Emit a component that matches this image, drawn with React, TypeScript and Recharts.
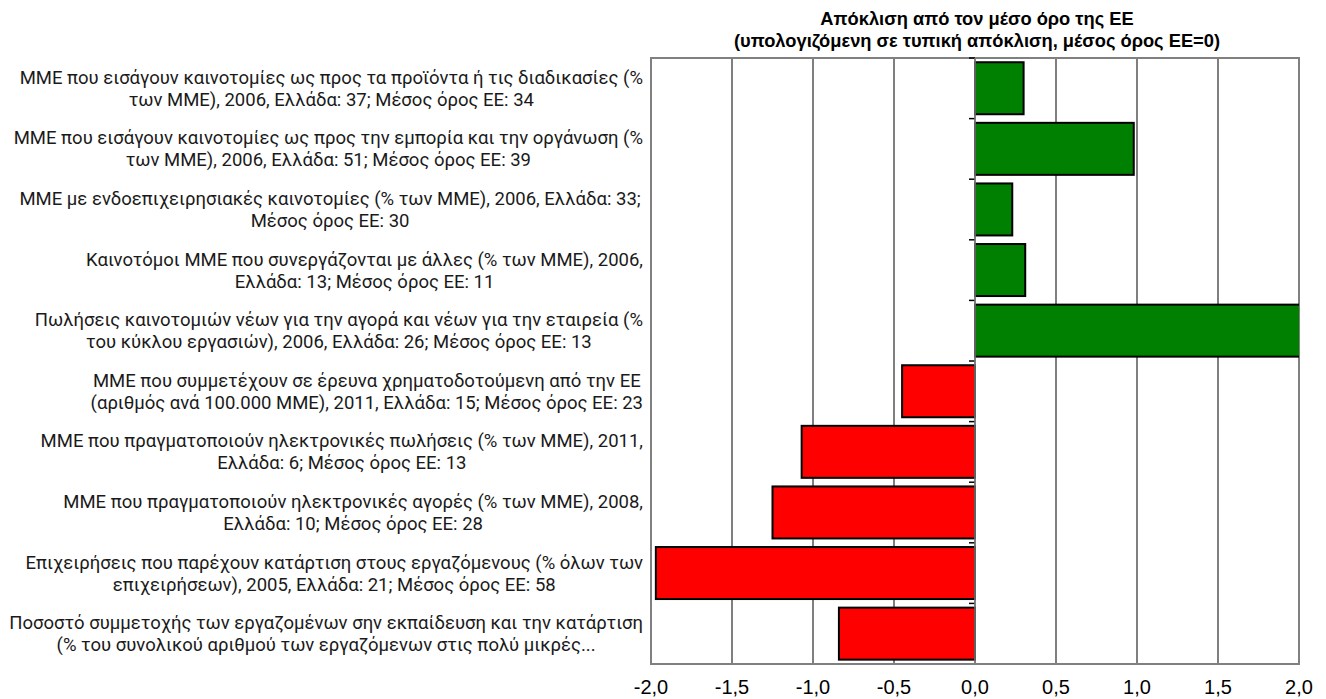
import React from 'react';
import { BarChart, Bar, XAxis, YAxis, CartesianGrid, ReferenceLine, ReferenceArea, Cell } from 'recharts';

const categories: string[] = [
  'ΜΜΕ που εισάγουν καινοτομίες ως προς τα προϊόντα ή τις διαδικασίες (%\nτων ΜΜΕ), 2006, Ελλάδα: 37; Μέσος όρος ΕΕ: 34',
  'ΜΜΕ που εισάγουν καινοτομίες ως προς την εμπορία και την οργάνωση (%\nτων ΜΜΕ), 2006, Ελλάδα: 51; Μέσος όρος ΕΕ: 39',
  'ΜΜΕ με  ενδοεπιχειρησιακές καινοτομίες (% των ΜΜΕ), 2006, Ελλάδα: 33;\nΜέσος όρος ΕΕ: 30',
  'Καινοτόμοι ΜΜΕ που συνεργάζονται με άλλες (% των ΜΜΕ), 2006,\nΕλλάδα: 13; Μέσος όρος ΕΕ: 11',
  'Πωλήσεις καινοτομιών νέων για την αγορά και νέων για την εταιρεία (%\nτου κύκλου εργασιών), 2006, Ελλάδα: 26; Μέσος όρος ΕΕ: 13',
  'ΜΜΕ που συμμετέχουν σε έρευνα χρηματοδοτούμενη από την ΕΕ\n(αριθμός ανά 100.000 ΜΜΕ), 2011, Ελλάδα: 15; Μέσος όρος ΕΕ: 23',
  'ΜΜΕ που πραγματοποιούν ηλεκτρονικές πωλήσεις (% των ΜΜΕ), 2011,\nΕλλάδα: 6; Μέσος όρος ΕΕ: 13',
  'ΜΜΕ που πραγματοποιούν ηλεκτρονικές αγορές (% των ΜΜΕ), 2008,\nΕλλάδα: 10; Μέσος όρος ΕΕ: 28',
  'Επιχειρήσεις που παρέχουν κατάρτιση στους εργαζόμενους (% όλων των\nεπιχειρήσεων), 2005, Ελλάδα: 21; Μέσος όρος ΕΕ: 58',
  'Ποσοστό συμμετοχής των εργαζομένων σην εκπαίδευση και την κατάρτιση\n(% του συνολικού αριθμού των εργαζόμενων στις πολύ μικρές...',
];

const values: number[] = [0.3, 0.98, 0.23, 0.31, 2.4, -0.45, -1.07, -1.25, -1.97, -0.84];

const xTicks: number[] = [-2, -1.5, -1, -0.5, 0, 0.5, 1, 1.5, 2];

const titleLines: string[] = [
  'Απόκλιση από τον μέσο όρο της ΕΕ',
  '(υπολογιζόμενη σε τυπική απόκλιση, μέσος όρος ΕΕ=0)',
];

const data = categories.map((name, i) => ({ name, value: values[i] }));

const GAP = 0.07;
const LABEL_SIZE = 18.5;
const LABEL_FONT = `${LABEL_SIZE}px Roboto`;

let ctx: CanvasRenderingContext2D | null = null;
const measure = (s: string, font: string) => {
  if (!ctx) {
    const c = document.createElement('canvas');
    ctx = c.getContext('2d');
  }
  if (!ctx) return s.length * 8.5;
  ctx.font = font;
  return ctx.measureText(s).width;
};

const CatTick = (props: any) => {
  const { x, y, payload } = props;
  const lines: string[] = String(payload.value).split('\n');
  const maxW = Math.max(...lines.map((l) => measure(l, LABEL_FONT)));
  const cx = x - maxW / 2;
  const lh = 22;
  const start = y - ((lines.length - 1) * lh) / 2;
  return (
    <text textAnchor="middle" fontFamily="Roboto" fontSize={LABEL_SIZE} fill="#1a1a1a">
      {lines.map((l, i) => (
        <tspan key={i} x={cx} y={start + i * lh} dy="0.35em">
          {l}
        </tspan>
      ))}
    </text>
  );
};

const XTick = (props: any) => {
  const { x, y, payload } = props;
  const label = Number(payload.value).toFixed(1).replace('.', ',');
  return (
    <text x={x} y={y + 22} textAnchor="middle" fontFamily="'Liberation Sans Narrow', 'Liberation Sans', sans-serif" fontSize={20} fill="#000">
      {label}
    </text>
  );
};

const BarShape = (props: any) => {
  const { x, y, width, height, fill } = props;
  const left = width < 0 ? x + width : x;
  const w = Math.abs(width);
  const v = props.payload ? props.payload.value : 0;
  const zeroX = v >= 0 ? left : left + w;
  const by = y - (height * GAP) / (1 - 2 * GAP);
  return (
    <g>
      <rect x={left} y={y} width={w} height={height} fill={fill} stroke="#000" strokeWidth={2} />
      <line x1={zeroX - 6} x2={zeroX} y1={by} y2={by} stroke="#000" strokeWidth={1.5} />
    </g>
  );
};

export default function App() {
  return (
    <div style={{ position: 'absolute', left: 0, top: 0, width: 1326, height: 699, background: '#fff' }}>
      <BarChart
        width={1326}
        height={699}
        data={data}
        layout="vertical"
        margin={{ top: 58, right: 27, bottom: 0, left: 0 }}
        barCategoryGap="7%"
      >
        <CartesianGrid horizontal={false} vertical={true} stroke="#2a2a2a" strokeWidth={1.2} />
        <XAxis
          type="number"
          domain={[-2, 2]}
          ticks={xTicks}
          allowDataOverflow
          axisLine={false}
          tickLine={false}
          height={35}
          tick={<XTick />}
          interval={0}
        />
        <YAxis
          type="category"
          dataKey="name"
          width={651}
          axisLine={false}
          tickLine={false}
          tick={<CatTick />}
          interval={0}
        />
        <ReferenceLine x={0} stroke="#808080" strokeWidth={1.5} />
        <Bar dataKey="value" isAnimationActive={false} shape={<BarShape />}>
          {data.map((d, i) => (
            <Cell key={i} fill={d.value >= 0 ? '#008000' : '#FF0000'} />
          ))}
        </Bar>
        <ReferenceArea x1={-2} x2={2} fill="none" fillOpacity={0} stroke="#808080" strokeWidth={2} ifOverflow="visible" />
      </BarChart>
      <div
        style={{
          position: 'absolute',
          left: 677,
          top: 8,
          width: 600,
          textAlign: 'center',
          fontFamily: "'Liberation Sans Narrow', 'Liberation Sans', sans-serif",
          fontWeight: 'bold',
          fontSize: 18.3,
          lineHeight: '22px',
          color: '#000',
        }}
      >
        {titleLines.map((t, i) => (
          <div key={i}>{t}</div>
        ))}
      </div>
    </div>
  );
}
